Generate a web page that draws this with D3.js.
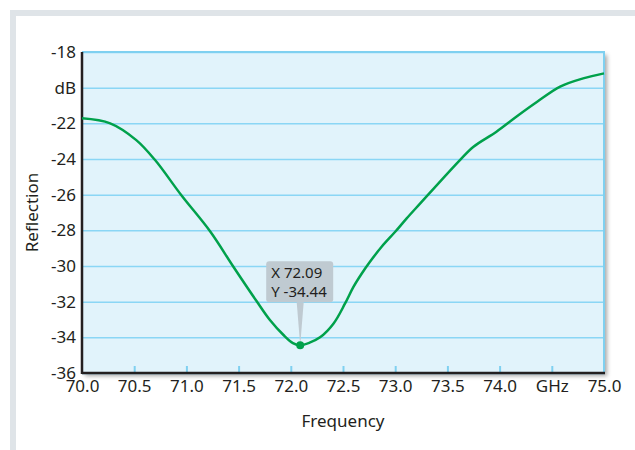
<!DOCTYPE html>
<html>
<head>
<meta charset="utf-8">
<script src="https://cdn.jsdelivr.net/npm/d3@7"></script>
<style>
  body { margin: 0; background: #fff; }
  text { font-family: "Noto Sans", sans-serif; fill: #231f20; }
</style>
</head>
<body>
<div id="canvas"></div>
<script>
//    data
var freq = [70.0, 70.27, 70.52, 70.70, 70.95, 71.23, 71.45, 71.67, 71.80, 71.93, 72.02, 72.09,
            72.18, 72.28, 72.41, 72.52, 72.60, 72.68, 72.76, 72.87, 73.00, 73.11, 73.24, 73.62,
            73.75, 73.97, 74.16, 74.36, 74.58, 74.80, 75.0];
var refl = [-21.72, -22.0, -22.94, -24.06, -26.02, -28.08, -30.04, -31.95, -33.03, -33.87, -34.32, -34.44,
            -34.30, -34.0, -33.22, -32.1, -31.17, -30.42, -29.75, -28.92, -28.08, -27.33, -26.49, -24.06,
            -23.31, -22.47, -21.63, -20.79, -19.94, -19.48, -19.2];
var xTicks = [70.0, 70.5, 71.0, 71.5, 72.0, 72.5, 73.0, 73.5, 74.0, 74.5, 75.0];
var xTickLabels = ['70.0', '70.5', '71.0', '71.5', '72.0', '72.5', '73.0', '73.5', '74.0', 'GHz', '75.0'];
var yTicks = [-18, -20, -22, -24, -26, -28, -30, -32, -34, -36];
var yTickLabels = ['-18', 'dB', '-22', '-24', '-26', '-28', '-30', '-32', '-34', '-36'];
var marker = {x: 72.09, y: -34.44};

//    defination
var W = 635, H = 450;
var pL = 82, pT = 52, pR = 604, pB = 373;
var fs = 17;

var x = d3.scaleLinear().domain([70, 75]).range([pL, pR]);
var y = d3.scaleLinear().domain([-36, -18]).range([pB, pT]);

var svg = d3.select('#canvas')
    .append('svg')
    .attr('width', W)
    .attr('height', H);

var defs = svg.append('defs');
var f = defs.append('filter').attr('id', 'shadow')
    .attr('x', '-5%').attr('y', '-5%').attr('width', '115%').attr('height', '115%');
f.append('feDropShadow')
    .attr('dx', 3).attr('dy', 3).attr('stdDeviation', 2)
    .attr('flood-color', '#000').attr('flood-opacity', 0.35);

//    frame
svg.append('rect').attr('x', 10).attr('y', 10).attr('width', 6).attr('height', H - 10).attr('fill', '#dfe4e8');
svg.append('rect').attr('x', 10).attr('y', 10).attr('width', W - 10).attr('height', 6).attr('fill', '#dfe4e8');

//    plot background
svg.append('rect')
    .attr('x', pL).attr('y', pT)
    .attr('width', pR - pL).attr('height', pB - pT)
    .attr('fill', '#e1f3fb')
    .attr('filter', 'url(#shadow)');

//    grid
svg.append('g')
    .attr('transform', 'translate(' + pL + ',0)')
    .call(d3.axisLeft(y).tickValues(yTicks).tickSize(-(pR - pL)).tickFormat(''))
    .call(function(g){
        g.select('.domain').remove();
        g.selectAll('line').attr('stroke', '#8ad6f5').attr('stroke-width', 1.5);
    });

//    top/right border
svg.append('path')
    .attr('d', 'M' + pL + ',' + pT + 'H' + pR + 'V' + pB)
    .attr('fill', 'none').attr('stroke', '#7fd0f0').attr('stroke-width', 2);

//    x axis ticks (inside)
svg.append('g')
    .attr('transform', 'translate(0,' + pB + ')')
    .call(d3.axisTop(x).tickValues(xTicks.slice(1, -1)).tickSize(7).tickFormat(''))
    .call(function(g){
        g.select('.domain').remove();
        g.selectAll('line').attr('stroke', '#7fd0f0').attr('stroke-width', 2);
    });

//    x labels
svg.append('g')
    .attr('transform', 'translate(0,' + pB + ')')
    .call(d3.axisBottom(x).tickValues(xTicks).tickSize(0).tickPadding(7)
        .tickFormat(function(d, i){ return xTickLabels[i]; }))
    .call(function(g){
        g.select('.domain').remove();
        g.selectAll('text').attr('font-size', fs).attr('fill', '#231f20')
            .style('font-family', '"Noto Sans", sans-serif');
    });

//    y labels
svg.append('g')
    .attr('transform', 'translate(' + pL + ',0)')
    .call(d3.axisLeft(y).tickValues(yTicks).tickSize(0).tickPadding(6)
        .tickFormat(function(d, i){ return yTickLabels[i]; }))
    .call(function(g){
        g.select('.domain').remove();
        g.selectAll('text').attr('font-size', fs).attr('fill', '#231f20')
            .style('font-family', '"Noto Sans", sans-serif');
    });

//    axis lines
svg.append('line')
    .attr('x1', pL).attr('x2', pL).attr('y1', pT).attr('y2', pB + 1)
    .attr('stroke', '#231f20').attr('stroke-width', 2.5);
svg.append('line')
    .attr('x1', pL).attr('x2', pR + 1).attr('y1', pB).attr('y2', pB)
    .attr('stroke', '#231f20').attr('stroke-width', 2.5);

//    curve
var line = d3.line()
    .x(function(d, i){ return x(freq[i]); })
    .y(function(d, i){ return y(refl[i]); })
    .curve(d3.curveCatmullRom.alpha(0.5));

svg.append('path')
    .attr('d', line(freq))
    .attr('fill', 'none')
    .attr('stroke', '#00a14b')
    .attr('stroke-width', 2.5);

//    tooltip
var mx = x(marker.x), my = y(marker.y);
var bx = mx - 34, by = my - 84, bw = 67, bh = 41;
svg.append('path')
    .attr('d', 'M' + (mx - 3.5) + ',' + (by + bh) + 'L' + mx + ',' + my + 'L' + (mx + 3.5) + ',' + (by + bh) + 'Z')
    .attr('fill', '#bfcad1');
svg.append('rect')
    .attr('x', bx).attr('y', by).attr('width', bw).attr('height', bh)
    .attr('rx', 3).attr('fill', '#bfcad1');
svg.append('text')
    .attr('x', bx + 5).attr('y', by + 17)
    .attr('font-size', 15)
    .text('X ' + marker.x.toFixed(2));
svg.append('text')
    .attr('x', bx + 5).attr('y', by + 36)
    .attr('font-size', 15)
    .text('Y ' + marker.y.toFixed(2));

svg.append('circle')
    .attr('cx', mx).attr('cy', my).attr('r', 4)
    .attr('fill', '#00a14b');

//    axis titles
svg.append('text')
    .attr('x', (pL + pR) / 2).attr('y', 427)
    .attr('text-anchor', 'middle')
    .attr('font-size', fs)
    .text('Frequency');
svg.append('text')
    .attr('transform', 'translate(38,' + ((pT + pB) / 2) + ') rotate(-90)')
    .attr('text-anchor', 'middle')
    .attr('font-size', fs)
    .text('Reflection');
</script>
</body>
</html>
